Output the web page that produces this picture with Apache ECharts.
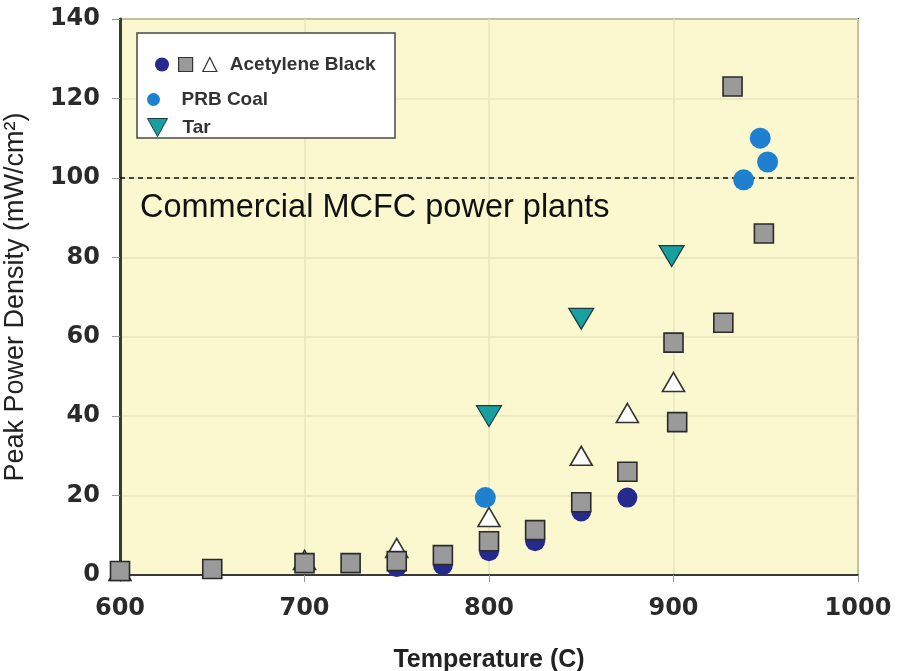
<!DOCTYPE html>
<html>
<head>
<meta charset="utf-8">
<script src="https://cdn.jsdelivr.net/npm/echarts@6/dist/echarts.min.js"></script>
<style>
  html, body { margin: 0; padding: 0; background: #ffffff; }
  #chart { width: 897px; height: 671px; }
</style>
</head>
<body>
<div id="chart"></div>
<script>
// Peak power density (mW/cm²) versus temperature (°C) for several fuels.
const xTicks = [600, 700, 800, 900, 1000];
const yTicks = [0, 20, 40, 60, 80, 100, 120, 140];

// Acetylene black, three cell configurations
const acetyleneCircle = [[750, 2], [775, 2.5], [800, 6], [825, 8.5], [850, 16], [875, 19.5]];
const acetyleneSquare = [[600, 1], [650, 1.5], [700, 3], [725, 3], [750, 3.5], [775, 5], [800, 8.5],
  [825, 11.3], [850, 18.3], [875, 26], [900, 58.5], [902, 38.5], [927, 63.5], [932, 123], [949, 86]];
const acetyleneTriangle = [[600, 1], [700, 3.8], [750, 6.8], [800, 14.6], [850, 30], [875, 40.8], [900, 48.6]];

// PRB coal and tar
const prbCoal = [[798, 19.5], [938, 99.5], [947, 110], [951, 104]];
const tar = [[800, 40], [850, 64.5], [899, 80.3]];

// Reference level of commercial MCFC power plants
const commercialLevel = 100;
const commercialLabel = 'Commercial MCFC power plants';

const NAVY = '#262a8c', GREY = '#9a9a9a', PRB = '#1f80cf', TEAL = '#18a0a0';
const tickFont = { fontFamily: 'DejaVu Sans', fontWeight: 'bold', fontSize: 24, color: '#2a2a2a' };
const legendText = { fontFamily: 'Liberation Sans', fontWeight: 'bold', fontSize: 19, color: '#333' };

const chart = echarts.init(document.getElementById('chart'), null, { renderer: 'canvas' });

chart.setOption({
  animation: false,
  grid: {
    left: 120, right: 39, top: 19, bottom: 96,
    containLabel: false, outerBoundsMode: 'none',
    show: true, backgroundColor: '#fbf8d0', borderColor: '#55554c', borderWidth: 2
  },
  xAxis: {
    type: 'value', min: xTicks[0], max: xTicks[xTicks.length - 1], interval: 100,
    name: 'Temperature (C)', nameLocation: 'middle', nameGap: 73,
    nameTextStyle: { fontFamily: 'Liberation Sans', fontWeight: 'bold', fontSize: 25, color: '#222' },
    axisLine: { lineStyle: { color: '#3b3a32', width: 2 } },
    axisTick: { show: true, length: 7, lineStyle: { color: '#999' } },
    axisLabel: Object.assign({ margin: 22, formatter: v => String(v) }, tickFont),
    splitLine: { show: true, lineStyle: { color: '#e8e4bc', width: 1.5 } }
  },
  yAxis: {
    type: 'value', min: yTicks[0], max: yTicks[yTicks.length - 1], interval: 20,
    name: 'Peak Power Density (mW/cm²)', nameLocation: 'middle', nameGap: 91,
    nameTextStyle: { fontFamily: 'Liberation Sans', fontSize: 27, color: '#222' },
    axisLine: { lineStyle: { color: '#3b3a32', width: 3 } },
    axisTick: { show: true, length: 8, lineStyle: { color: '#999' } },
    axisLabel: Object.assign({ margin: 20 }, tickFont),
    splitLine: { show: true, lineStyle: { color: '#e8e4bc', width: 1.5 } }
  },
  graphic: [{
    type: 'rect', z: 3,
    shape: { x: 137, y: 33, width: 258, height: 105 },
    style: { fill: '#ffffff', stroke: '#4a4a44', lineWidth: 1.5 }
  }],
  legend: [
    {
      z: 5, left: 150, top: 50, orient: 'horizontal', itemGap: 9, itemWidth: 14, itemHeight: 14,
      selectedMode: false,
      data: [
        { name: 'Acetylene Black ●', icon: 'circle', itemStyle: { color: NAVY, borderWidth: 0 } },
        { name: 'Acetylene Black ■', icon: 'rect', itemStyle: { color: GREY, borderColor: '#333', borderWidth: 1.2 } },
        { name: 'Acetylene Black △', icon: 'triangle', itemStyle: { color: '#fff', borderColor: '#333', borderWidth: 1.2 } }
      ],
      formatter: n => (n === 'Acetylene Black △' ? 'Acetylene Black' : ''),
      textStyle: Object.assign({ padding: [0, 0, 0, 8] }, legendText)
    },
    {
      z: 5, left: 142, top: 85, itemWidth: 30, itemHeight: 13, selectedMode: false,
      data: [{ name: 'PRB Coal', icon: 'circle', itemStyle: { color: PRB, borderWidth: 0 } }],
      textStyle: Object.assign({ padding: [0, 0, 0, 8] }, legendText)
    },
    {
      z: 5, left: 142, top: 113, itemWidth: 32, itemHeight: 18, selectedMode: false,
      data: [{ name: 'Tar', icon: 'path://M0,0 L20,0 L10,18 Z', itemStyle: { color: TEAL, borderColor: '#1b3b3e', borderWidth: 1 } }],
      textStyle: Object.assign({ padding: [0, 0, 0, 4] }, legendText)
    }
  ],
  series: [
    {
      name: 'Acetylene Black ●', type: 'scatter', data: acetyleneCircle, z: 2,
      symbol: 'circle', symbolSize: 20,
      itemStyle: { color: NAVY, opacity: 1 },
      markLine: {
        silent: true, symbol: 'none', z: 1,
        data: [{ yAxis: commercialLevel }],
        lineStyle: { type: [5, 4], color: '#111', width: 1.5 },
        label: {
          show: true, position: 'insideStartBottom', formatter: commercialLabel,
          fontFamily: 'Liberation Sans', fontSize: 32.5, color: '#111', distance: [20, 14]
        }
      }
    },
    {
      name: 'Acetylene Black △', type: 'scatter', data: acetyleneTriangle, z: 3,
      symbol: 'triangle', symbolSize: [22, 19],
      itemStyle: { color: '#ffffff', borderColor: '#333', borderWidth: 1.6, opacity: 1 }
    },
    {
      name: 'Acetylene Black ■', type: 'scatter', data: acetyleneSquare, z: 4,
      symbol: 'rect', symbolSize: 19,
      itemStyle: { color: GREY, borderColor: '#2a2a2a', borderWidth: 1.6, opacity: 1 }
    },
    {
      name: 'PRB Coal', type: 'scatter', data: prbCoal, z: 5,
      symbol: 'circle', symbolSize: 21,
      itemStyle: { color: PRB, opacity: 1 }
    },
    {
      name: 'Tar', type: 'scatter', data: tar, z: 6,
      symbol: 'path://M0,0 L20,0 L10,18 Z', symbolSize: [25, 21],
      itemStyle: { color: TEAL, borderColor: '#1b3b3e', borderWidth: 1.2, opacity: 1 }
    }
  ]
});
</script>
</body>
</html>
